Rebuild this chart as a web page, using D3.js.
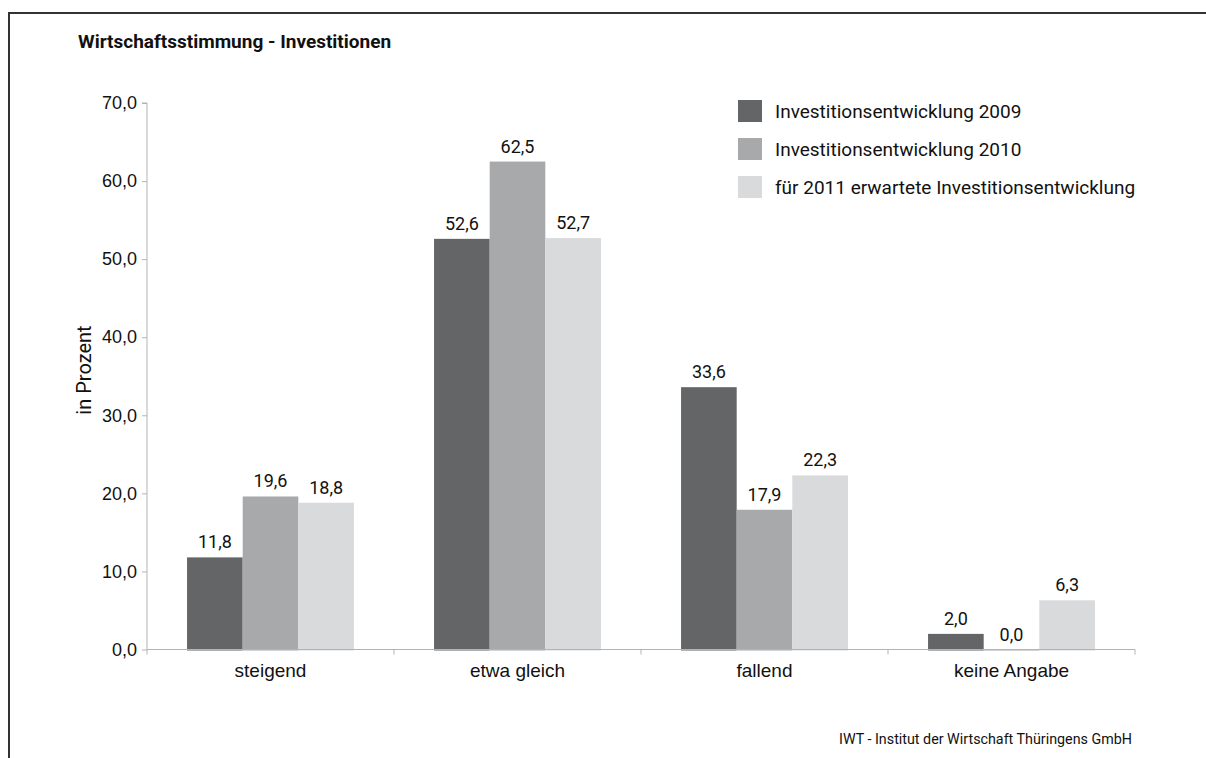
<!DOCTYPE html>
<html><head><meta charset="utf-8">
<script src="https://cdn.jsdelivr.net/npm/d3@7"></script>
<style>
body{margin:0;background:#fff;}
svg{display:block;font-family:"Roboto","Liberation Sans",sans-serif;}
</style></head>
<body>
<svg id="c" width="1206" height="758"></svg>
<script>
const title = "Wirtschaftsstimmung - Investitionen";
const categories = ["steigend", "etwa gleich", "fallend", "keine Angabe"];
const seriesNames = ["Investitionsentwicklung 2009", "Investitionsentwicklung 2010", "für 2011 erwartete Investitionsentwicklung"];
const values2009 = [11.8, 52.6, 33.6, 2.0];
const values2010 = [19.6, 62.5, 17.9, 0.0];
const values2011 = [18.8, 52.7, 22.3, 6.3];
const yTicks = [0, 10, 20, 30, 40, 50, 60, 70];
const colors = ["#646567", "#a8a9ab", "#d9dadc"];
const yTitle = "in Prozent";
const source = "IWT - Institut der Wirtschaft Thüringens GmbH";

const series = [values2009, values2010, values2011];
const svg = d3.select("#c");
const fmt = v => d3.format(".1f")(v).replace(".", ",");

// frame
svg.append("path").attr("d", "M9,758 V13 H1206").attr("fill", "none").attr("stroke", "#333").attr("stroke-width", 2);

svg.append("text").attr("x", 78).attr("y", 48).attr("font-size", 19).attr("font-weight", "bold").attr("fill", "#111").text(title);

const x0 = d3.scaleBand().domain(categories).range([147, 1135]).paddingInner(0).paddingOuter(0);
const x1 = d3.scaleBand().domain(d3.range(3)).range([0, x0.bandwidth()]).paddingInner(0).paddingOuter(0.72);
const y = d3.scaleLinear().domain([0, 70]).range([649.5, 103]);

// y axis
const ya = svg.append("g").attr("transform", "translate(147,0)")
  .call(d3.axisLeft(y).tickValues(yTicks).tickFormat(fmt).tickSize(5).tickPadding(5));
ya.select(".domain").attr("stroke", "#b3b3b3").attr("d", `M-5,${y(70)}H0V${y(0)}`);
ya.selectAll(".tick line").attr("stroke", "#b3b3b3");
ya.selectAll(".tick text").attr("font-size", 18).attr("fill", "#111").attr("font-family", null);

// bars
const g = svg.append("g");
categories.forEach((c, i) => {
  series.forEach((s, k) => {
    const v = s[i];
    g.append("rect").attr("x", x0(c) + x1(k)).attr("width", x1.bandwidth())
      .attr("y", y(v)).attr("height", y(0) - y(v) + 1).attr("fill", colors[k]);
    g.append("text").attr("x", x0(c) + x1(k) + x1.bandwidth() / 2).attr("y", y(v) - 9)
      .attr("text-anchor", "middle").attr("font-size", 18).attr("fill", "#111").text(fmt(v));
  });
});

// x axis
const xa = svg.append("g").attr("transform", `translate(0,${y(0)})`)
  .call(d3.axisBottom(x0).tickSize(0).tickPadding(14));
xa.select(".domain").attr("stroke", "#b3b3b3").attr("d", `M147,0H1135`);
xa.selectAll(".tick text").attr("font-size", 19).attr("fill", "#111").attr("font-family", null);
const bounds = categories.map(c => x0(c)).concat([x0.range()[1]]);
svg.append("g").selectAll("line").data(bounds).join("line")
  .attr("x1", d => d).attr("x2", d => d).attr("y1", y(0)).attr("y2", y(0) + 5).attr("stroke", "#b3b3b3");

// y title
svg.append("text").attr("transform", "translate(91,370) rotate(-90)").attr("text-anchor", "middle")
  .attr("font-size", 20).attr("fill", "#111").text(yTitle);

// legend
const lg = svg.append("g");
seriesNames.forEach((n, k) => {
  const cy = 111 + k * 38;
  lg.append("rect").attr("x", 738).attr("y", cy - 11).attr("width", 24).attr("height", 22).attr("fill", colors[k]);
  lg.append("text").attr("x", 775).attr("y", cy + 7).attr("font-size", 19).attr("fill", "#111").text(n);
});

svg.append("text").attr("x", 1132).attr("y", 744).attr("text-anchor", "end").attr("font-size", 14.3).attr("fill", "#111").text(source);
</script>
</body></html>
